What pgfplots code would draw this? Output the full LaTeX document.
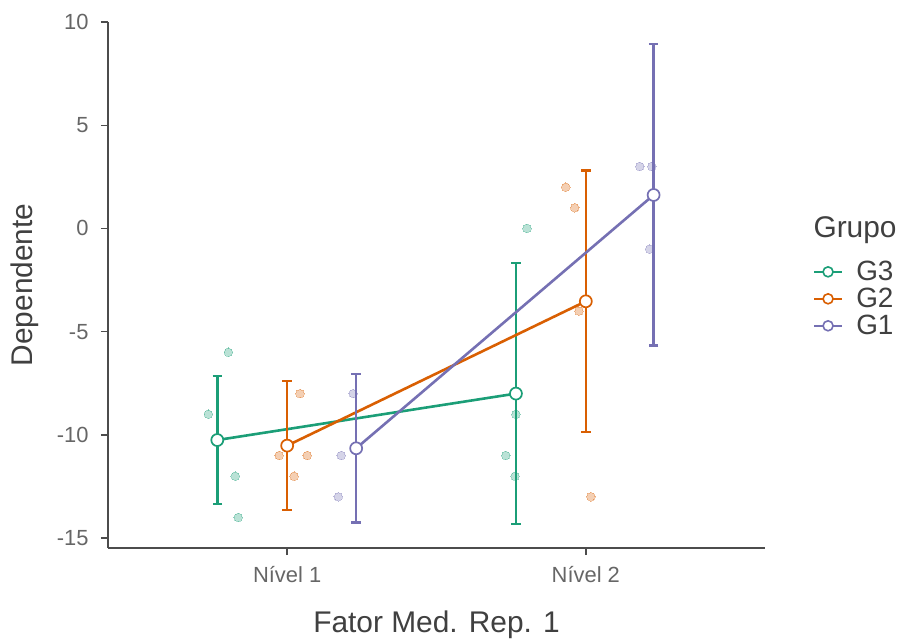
\documentclass[border=0pt]{standalone}
\usepackage{fontspec}
\setmainfont{Liberation Sans}
\usepackage{pgfplots}
\pgfplotsset{compat=1.18}
\definecolor{cGiii}{HTML}{1B9E77}
\definecolor{cGii}{HTML}{D95F02}
\definecolor{cGi}{HTML}{7570B3}

\pgfplotstableread{
x y
0.803 -6
0.736 -9
0.826 -12
0.836 -14
1.803 0
1.766 -9
1.732 -11
1.763 -12
}\ptsGiii
\pgfplotstableread{
x y
1.043 -8
0.973 -11
1.067 -11
1.023 -12
1.933 2
1.963 1
1.977 -4
2.017 -13
}\ptsGii
\pgfplotstableread{
x y
1.221 -8
1.181 -11
1.171 -13
2.181 3
2.221 3
2.214 -1
}\ptsGi
\pgfplotstableread{
x y e
0.766 -10.25 3.10
1.766 -8.00 6.33
}\meanGiii
\pgfplotstableread{
x y e
1.000 -10.52 3.12
2.000 -3.53 6.33
}\meanGii
\pgfplotstableread{
x y e
1.231 -10.65 3.60
2.227 1.62 7.30
}\meanGi

\pgfplotsset{
  meanstyle/.style={#1, line width=2.6bp, mark=*, mark size=6bp,
    mark options={fill=white, line width=1.7bp}, forget plot,
    error bars/.cd, y dir=both, y explicit,
    error bar style={line width=2.6bp},
    error mark options={rotate=90, mark size=4.7bp, line width=2.4bp}},
  jitstyle/.style={only marks, mark=*, mark size=4.3bp, forget plot,
    color=#1, opacity=0.3, mark options={draw=#1, fill=#1, line width=0pt}},
  legimg/.style={legend image code/.code={\draw[#1, line width=2.4bp] (0bp,0bp)--(28bp,0bp); \draw[#1, line width=1.6bp, fill=white] (14bp,0bp) circle (5bp);}},
}

\begin{document}
\begin{tikzpicture}
\useasboundingbox (0,0) rectangle (901bp,639bp);
\begin{axis}[
  at={(108bp,91bp)}, anchor=south west,
  scale only axis, width=657bp, height=526bp,
  xmin=0.4, xmax=2.6, ymin=-15.48, ymax=10,
  axis x line*=bottom, axis y line*=left,
  axis line style={draw=black!70, line width=1.4bp},
  xtick={1,2}, xticklabels={Nível 1,Nível 2},
  ytick={-15,-10,-5,0,5,10}, yticklabels={-15,-10,-5,0,5,10},
  tick align=outside, major tick length=7bp,
  tick style={draw=black!70, line width=1.4bp},
  ticklabel style={font=\fontsize{22}{24}\selectfont, text=black!60},
  yticklabel style={xshift=-9bp},
  xticklabel style={yshift=-8bp},
  xlabel={Fator Med. Rep. 1},
  ylabel={Dependente},
  label style={font=\fontsize{30}{32}\selectfont, text=black!75},
  xlabel style={at={(axis description cs:0.5,-0.145)}, anchor=center},
  ylabel style={at={(axis description cs:-0.126,0.5)}, anchor=center},
  clip=false,
  legend style={at={(axis description cs:1.068,0.551)}, anchor=north west,
    draw=none, fill=none, font=\fontsize{28}{30}\selectfont, text=black!75,
    row sep=4bp, nodes={inner sep=1bp},
    /tikz/every odd column/.append style={column sep=12bp}},
  legend cell align=left,
]
\addlegendimage{legimg=cGiii}
\addlegendentry{G3}
\addlegendimage{legimg=cGii}
\addlegendentry{G2}
\addlegendimage{legimg=cGi}
\addlegendentry{G1}

\addplot[jitstyle=cGiii] table[x=x,y=y]{\ptsGiii};
\addplot[jitstyle=cGii] table[x=x,y=y]{\ptsGii};
\addplot[jitstyle=cGi] table[x=x,y=y]{\ptsGi};

\addplot[meanstyle=cGiii] table[x=x,y=y,y error=e]{\meanGiii};
\addplot[meanstyle=cGii] table[x=x,y=y,y error=e]{\meanGii};
\addplot[meanstyle=cGi] table[x=x,y=y,y error=e]{\meanGi};

\node[anchor=west, font=\fontsize{30}{32}\selectfont, text=black!75] at (axis description cs:1.0685,0.6046) {Grupo};
\end{axis}
\end{tikzpicture}
\end{document}
